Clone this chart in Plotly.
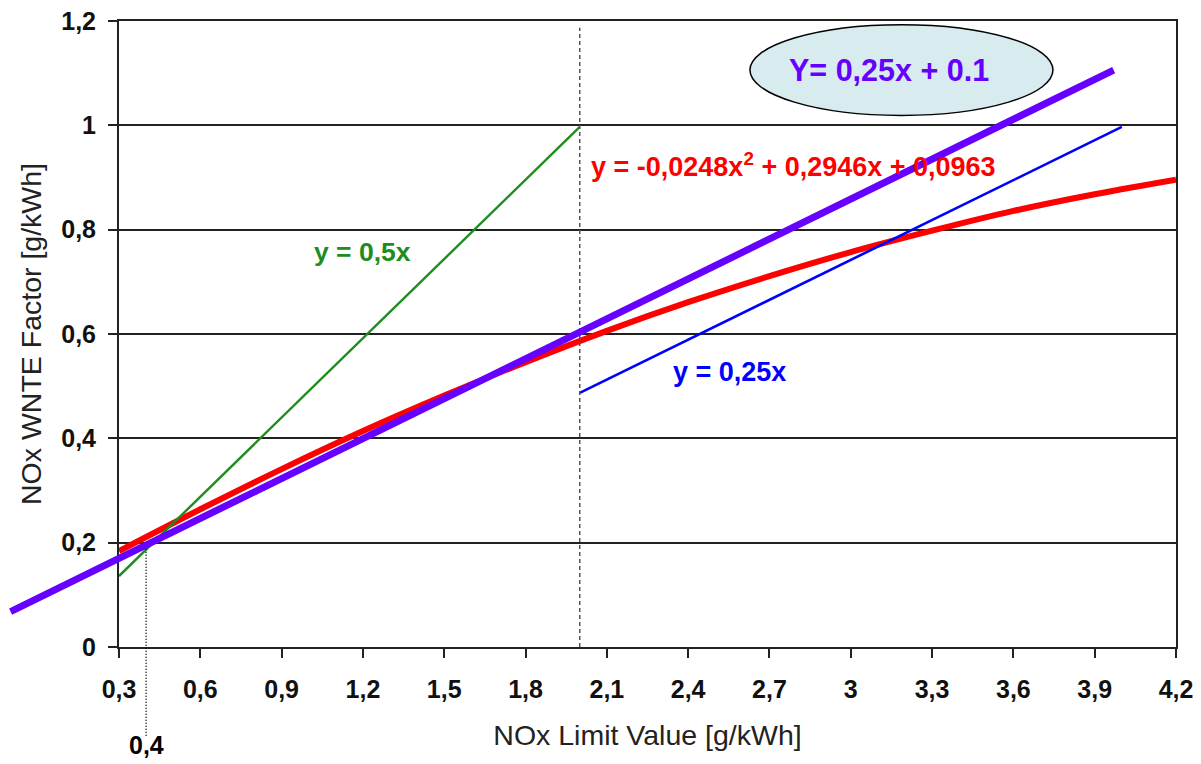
import plotly.graph_objects as go

# ---------------- data ----------------
x_ticks = [0.3, 0.6, 0.9, 1.2, 1.5, 1.8, 2.1, 2.4, 2.7, 3.0, 3.3, 3.6, 3.9, 4.2]
x_ticktext = ["0,3", "0,6", "0,9", "1,2", "1,5", "1,8", "2,1", "2,4", "2,7", "3", "3,3", "3,6", "3,9", "4,2"]
y_ticks = [0, 0.2, 0.4, 0.6, 0.8, 1.0, 1.2]
y_ticktext = ["0", "0,2", "0,4", "0,6", "0,8", "1", "1,2"]

# red fitted curve
red_x = [0.3, 0.6, 0.9, 1.2, 1.5, 1.8, 2.1, 2.4, 2.7, 3.0, 3.3, 3.6, 3.9, 4.2]
red_y = [0.184, 0.264, 0.341, 0.414, 0.482, 0.546, 0.606, 0.661, 0.711, 0.757, 0.798, 0.836, 0.868, 0.896]

# green y = 0,5x
green_x = [0.3, 2.0]
green_y = [0.136, 0.997]

# blue y = 0,25x
blue_x = [2.0, 4.0]
blue_y = [0.487, 0.997]

# purple Y = 0,25x + 0.1 (extends beyond the plot area)
purple_x = [-0.10, 3.97]
purple_y = [0.068, 1.106]

# vertical reference lines
dash_x = [2.0, 2.0]
dash_y = [0.0, 1.187]
dot_x = [0.4, 0.4]
dot_y = [0.2, -0.172]

# ---------------- layout geometry ----------------
W, H = 1201, 764
X_RANGE = [0.3, 4.2]
Y_RANGE = [0.0, 1.2]
xd = [119 / W, 1176 / W]
yd = [(H - 647) / H, (H - 21) / H]

# full-figure overlay axes with identical scale (so lines can leave the plot area)
xs = (X_RANGE[1] - X_RANGE[0]) / (xd[1] - xd[0])
ys = (Y_RANGE[1] - Y_RANGE[0]) / (yd[1] - yd[0])
X2 = [X_RANGE[0] - xd[0] * xs, X_RANGE[1] + (1 - xd[1]) * xs]
Y2 = [Y_RANGE[0] - yd[0] * ys, Y_RANGE[1] + (1 - yd[1]) * ys]

FONT = "Arial, 'Liberation Sans', sans-serif"

fig = go.Figure()

fig.add_trace(go.Scatter(x=red_x, y=red_y, mode="lines", line=dict(color="#FF0000", width=6, shape="spline"),
                         showlegend=False, hoverinfo="skip"))
fig.add_trace(go.Scatter(x=green_x, y=green_y, mode="lines", line=dict(color="#1E8C1E", width=2.4),
                         showlegend=False, hoverinfo="skip"))
fig.add_trace(go.Scatter(x=blue_x, y=blue_y, mode="lines", line=dict(color="#0000FF", width=2.6),
                         showlegend=False, hoverinfo="skip"))
fig.add_trace(go.Scatter(x=dash_x, y=dash_y, mode="lines", line=dict(color="#555555", width=1.5, dash="4px,3px"),
                         showlegend=False, hoverinfo="skip"))
fig.add_trace(go.Scatter(x=dot_x, y=dot_y, xaxis="x2", yaxis="y2", mode="lines",
                         line=dict(color="#000000", width=1.5, dash="1px,2px"),
                         showlegend=False, hoverinfo="skip"))
fig.add_trace(go.Scatter(x=purple_x, y=purple_y, xaxis="x2", yaxis="y2", mode="lines",
                         line=dict(color="#6600FF", width=7),
                         showlegend=False, hoverinfo="skip"))

fig.update_layout(
    template="none",
    width=W, height=H,
    margin=dict(l=0, r=0, t=0, b=0),
    paper_bgcolor="white",
    plot_bgcolor="rgba(0,0,0,0)",
    font=dict(family=FONT, color="#111111"),
    xaxis=dict(
        domain=xd, range=X_RANGE, automargin=False,
        tickvals=x_ticks, ticktext=x_ticktext,
        tickfont=dict(size=25, weight="bold", color="#111111"),
        ticks="outside", ticklen=9, tickwidth=2, tickcolor="#222222", ticklabelstandoff=10,
        showline=True, linecolor="#222222", linewidth=2, mirror=True,
        showgrid=False, zeroline=False,
        title=dict(text="NOx Limit Value [g/kWh]", font=dict(size=28.5, color="#222222"), standoff=23),
    ),
    yaxis=dict(
        domain=yd, range=Y_RANGE, automargin=False,
        tickvals=y_ticks, ticktext=y_ticktext,
        tickfont=dict(size=25, weight="bold", color="#111111"),
        ticks="outside", ticklen=9, tickwidth=2, tickcolor="#222222", ticklabelstandoff=7,
        showline=True, linecolor="#222222", linewidth=2, mirror=True,
        showgrid=True, gridcolor="#222222", gridwidth=2, zeroline=False,
        title=dict(text="NOx WNTE Factor [g/kWh]", font=dict(size=28.5, color="#222222"), standoff=11),
    ),
    xaxis2=dict(domain=[0, 1], range=X2, visible=False, anchor="y2", automargin=False),
    yaxis2=dict(domain=[0, 1], range=Y2, visible=False, anchor="x2", automargin=False),
    shapes=[
        dict(type="circle", xref="x", yref="y", x0=2.628, x1=3.746, y0=1.019, y1=1.193,
             fillcolor="#D8EBEE", line=dict(color="#000000", width=1.5), layer="above"),
    ],
    annotations=[
        dict(x=3.141, y=1.106, xref="x", yref="y", text="<b>Y= 0,25x + 0.1</b>", showarrow=False,
             font=dict(size=30.5, color="#6600FF")),
        dict(x=2.034, y=0.924, xref="x", yref="y", xanchor="left",
             text="<b>y = -0,0248x<sup>2</sup> + 0,2946x + 0,0963</b>", showarrow=False,
             font=dict(size=27, color="#FF0000")),
        dict(x=1.197, y=0.757, xref="x", yref="y", text="<b>y = 0,5x</b>", showarrow=False,
             font=dict(size=26.5, color="#1E8C1E")),
        dict(x=2.551, y=0.527, xref="x", yref="y", text="<b>y = 0,25x</b>", showarrow=False,
             font=dict(size=27, color="#0000FF")),
        dict(x=0.4, y=-0.188, xref="x2", yref="y2", text="<b>0,4</b>", showarrow=False,
             font=dict(size=25, color="#000000")),
    ],
)

fig.write_html("out.html", config={"displayModeBar": False},
               post_script="document.body.style.margin='0';document.body.style.overflow='hidden';")
